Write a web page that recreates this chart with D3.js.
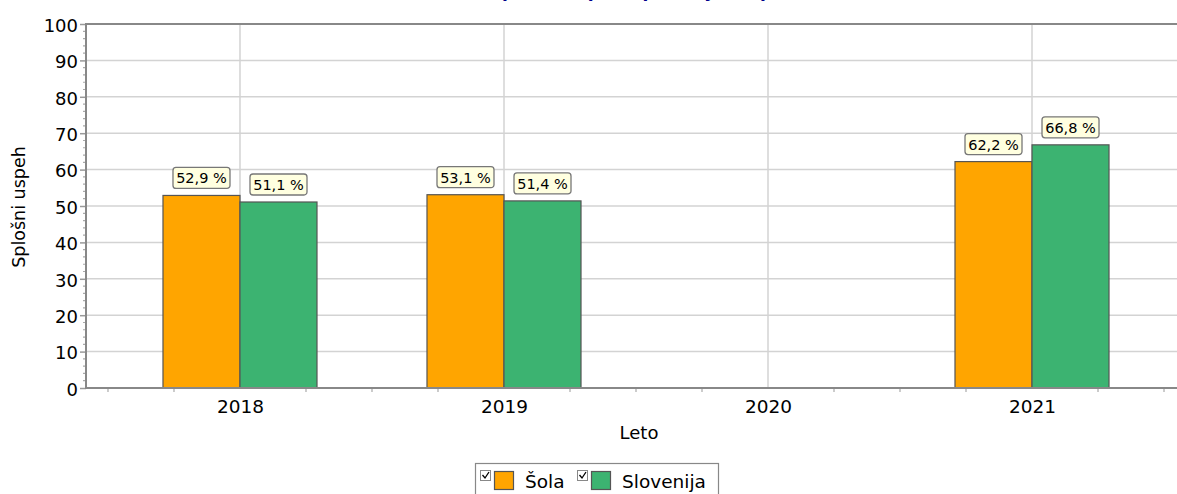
<!DOCTYPE html>
<html><head><meta charset="utf-8">
<script src="https://cdn.jsdelivr.net/npm/d3@7"></script>
<style>body{margin:0;background:#fff}svg{display:block}text{font-family:"DejaVu Sans",Verdana,sans-serif}</style>
</head><body><svg id="c" width="1177" height="494"></svg>
<script>
const years = [2018, 2019, 2020, 2021];
const sola = [52.9, 53.1, null, 62.2];
const slovenija = [51.1, 51.4, null, 66.8];
const yTicks = [0, 10, 20, 30, 40, 50, 60, 70, 80, 90, 100];
const seriesNames = ["Šola", "Slovenija"];
const seriesColors = ["#FFA500", "#3CB371"];
const fmt = v => d3.format(".1f")(v).replace(".", ",") + " %";

const svg = d3.select("#c");
const L = 86, T = 24, B = 388, R = 1186;
const x = d3.scaleLinear().domain([2017.4167, 2021.5833]).range([L, R]);
const y = d3.scaleLinear().domain([0, 100]).range([B, T]);

// title (cut off at top, as in the reference)
svg.append("text").attr("x", 680).attr("y", -3).attr("text-anchor", "middle")
  .attr("fill", "#00008b").attr("font-size", 17).attr("font-weight", "bold")
  .text("Splošni uspeh - primerjava (po letnikih)");

// grid
svg.append("g").selectAll("line").data(yTicks.filter(d => d > 0)).join("line")
  .attr("x1", L).attr("x2", 1177).attr("y1", d => y(d)).attr("y2", d => y(d))
  .attr("stroke", "#d3d3d3").attr("stroke-width", 1.5);
svg.append("g").selectAll("line").data(years).join("line")
  .attr("x1", d => x(d)).attr("x2", d => x(d)).attr("y1", T).attr("y2", B)
  .attr("stroke", "#d3d3d3").attr("stroke-width", 1.5);

// bars
const bw = 0.2917;
const data = [];
years.forEach((yr, i) => {
  if (sola[i] != null) data.push({yr, v: sola[i], s: 0});
  if (slovenija[i] != null) data.push({yr, v: slovenija[i], s: 1});
});
const x0 = d => d.s === 0 ? x(d.yr - bw) : x(d.yr);
const x1 = d => d.s === 0 ? x(d.yr) : x(d.yr + bw);
svg.append("g").selectAll("rect").data(data).join("rect")
  .attr("x", x0).attr("width", d => x1(d) - x0(d))
  .attr("y", d => y(d.v)).attr("height", d => B - y(d.v))
  .attr("fill", d => seriesColors[d.s]).attr("stroke", "#555").attr("stroke-width", 1.2);

// axes
const yAxis = d3.axisLeft(y).tickValues(yTicks).tickSize(6).tickPadding(2);
const gy = svg.append("g").attr("transform", `translate(${L},0)`).call(yAxis);
gy.select(".domain").remove();
gy.selectAll(".tick line").attr("stroke", "#999").attr("stroke-width", 1.5);
gy.selectAll(".tick text").attr("font-size", 18).attr("fill", "#000")
  .attr("font-family", '"DejaVu Sans",Verdana,sans-serif').attr("dy", "0.4em");
const minorY = d3.range(0, 101, 2).filter(d => d % 10 !== 0);
svg.append("g").selectAll("line").data(minorY).join("line")
  .attr("x1", L - 3).attr("x2", L - 1).attr("y1", d => y(d)).attr("y2", d => y(d))
  .attr("stroke", "#aaa").attr("stroke-width", 1.2);

const xAxis = d3.axisBottom(x).tickValues(years).tickFormat(d3.format("d")).tickSize(0).tickPadding(12);
const gx = svg.append("g").attr("transform", `translate(0,${B})`).call(xAxis);
gx.select(".domain").remove();
gx.selectAll(".tick text").attr("font-size", 18.5).attr("fill", "#000")
  .attr("font-family", '"DejaVu Sans",Verdana,sans-serif');
const minorX = d3.range(2017.5, 2021.6, 0.25).filter(d => Math.abs(d - Math.round(d)) > 0.01);
svg.append("g").selectAll("line").data(minorX).join("line")
  .attr("x1", d => x(d)).attr("x2", d => x(d)).attr("y1", B + 1).attr("y2", B + 4)
  .attr("stroke", "#aaa").attr("stroke-width", 1.2);

// frame lines
svg.append("line").attr("x1", L).attr("x2", 1177).attr("y1", T).attr("y2", T).attr("stroke", "#888").attr("stroke-width", 2);
svg.append("line").attr("x1", L).attr("x2", 1177).attr("y1", B).attr("y2", B).attr("stroke", "#888").attr("stroke-width", 2);
svg.append("line").attr("x1", L).attr("x2", L).attr("y1", T - 1).attr("y2", B + 1).attr("stroke", "#888").attr("stroke-width", 2);

// value labels
const lg = svg.append("g").selectAll("g").data(data).join("g")
  .attr("transform", d => `translate(${(x0(d) + x1(d)) / 2},${y(d.v) - 7})`);
lg.append("rect").attr("x", -28.5).attr("y", -21).attr("width", 57).attr("height", 21)
  .attr("rx", 3).attr("fill", "#ffffe0").attr("stroke", "#777").attr("stroke-width", 1.3);
lg.append("text").attr("x", 0).attr("y", -5).attr("text-anchor", "middle")
  .attr("font-size", 14.5).attr("fill", "#000").text(d => fmt(d.v));

// axis titles
svg.append("text").attr("x", 639).attr("y", 439).attr("text-anchor", "middle")
  .attr("font-size", 18).attr("fill", "#000").text("Leto");
svg.append("text").attr("transform", "translate(25,207) rotate(-90)").attr("text-anchor", "middle")
  .attr("font-size", 17.5).attr("fill", "#000").text("Splošni uspeh");

// legend
const leg = svg.append("g");
leg.append("rect").attr("x", 475.5).attr("y", 463.5).attr("width", 243).attr("height", 40)
  .attr("fill", "#fff").attr("stroke", "#888").attr("stroke-width", 1.2);
const items = [{x: 480, tx: 525}, {x: 577, tx: 622}];
items.forEach((it, i) => {
  leg.append("rect").attr("x", it.x + 0.5).attr("y", 470.5).attr("width", 10).attr("height", 10)
    .attr("fill", "#fff").attr("stroke", "#888");
  leg.append("path").attr("d", `M${it.x + 2.5},${475} L${it.x + 5},${478} L${it.x + 9},${472}`)
    .attr("fill", "none").attr("stroke", "#000").attr("stroke-width", 1.3);
  leg.append("rect").attr("x", it.x + 14.5).attr("y", 471.5).attr("width", 19).attr("height", 18)
    .attr("fill", seriesColors[i]).attr("stroke", "#555").attr("stroke-width", 1.2);
  leg.append("text").attr("x", it.tx).attr("y", 488).attr("font-size", 18.5).attr("fill", "#000")
    .text(seriesNames[i]);
});
</script></body></html>
